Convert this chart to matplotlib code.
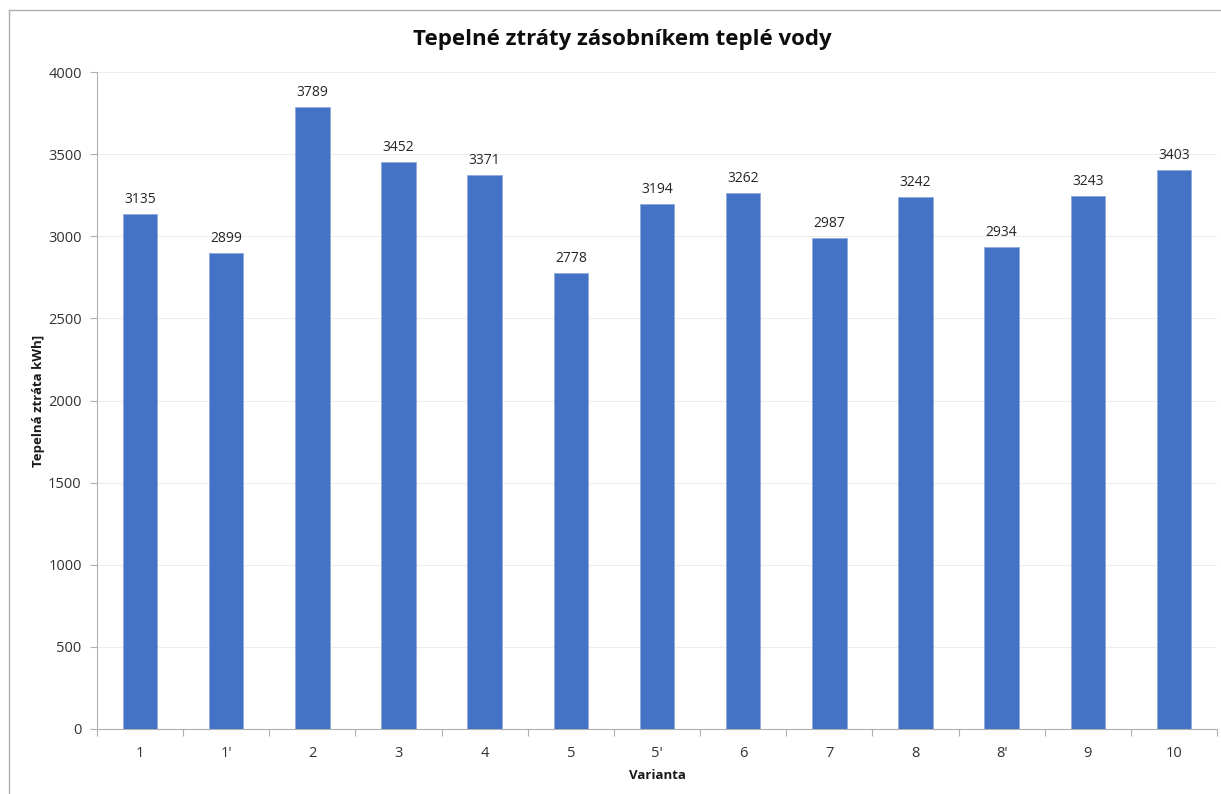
import matplotlib
matplotlib.use("Agg")
import matplotlib.pyplot as plt
from matplotlib.lines import Line2D
import numpy as np

categories = ["1", "1'", "2", "3", "4", "5", "5'", "6", "7", "8", "8'", "9", "10"]
losses = [3135, 2899, 3789, 3452, 3371, 2778, 3194, 3262, 2987, 3242, 2934, 3243, 3403]
y_ticks = [0, 500, 1000, 1500, 2000, 2500, 3000, 3500, 4000]

plt.rcParams["font.family"] = ["Open Sans", "DejaVu Sans"]

W, H = 1221, 794
fig = plt.figure(figsize=(W / 100, H / 100), dpi=100)

# outer chart frame (top and left edges visible)
fig.add_artist(Line2D([9 / W, 9 / W], [0, 1 - 10 / H], transform=fig.transFigure,
                      color="#B0B0B0", lw=1.0))
fig.add_artist(Line2D([9 / W, 1], [1 - 10 / H, 1 - 10 / H], transform=fig.transFigure,
                      color="#B0B0B0", lw=1.0))

left, right, top, bottom = 97, 1217, 72, 729
ax = fig.add_axes([left / W, 1 - bottom / H, (right - left) / W, (bottom - top) / H])

x = np.arange(len(categories))
ax.bar(x, losses, width=0.4, color="#4472C4", edgecolor="#8FAADC", linewidth=0.6, zorder=3)

for xi, v in zip(x, losses):
    ax.annotate(f"{v}", (xi, v), xytext=(0, 5), textcoords="offset points",
                ha="center", va="bottom", fontsize=10, color="#262626")

ax.set_xlim(-0.5, len(categories) - 0.5)
ax.set_ylim(0, 4000)
ax.set_yticks(y_ticks)
ax.set_yticklabels([str(t) for t in y_ticks], fontsize=10.5, color="#333333")
ax.yaxis.grid(True, color="#EDEDED", lw=0.8, zorder=0)
ax.set_axisbelow(True)

ax.set_xticks(x)
ax.set_xticklabels(categories, fontsize=10.5, color="#333333")
ax.tick_params(axis="x", length=0, pad=12)
ax.set_xticks(np.arange(-0.5, len(categories)), minor=True)
ax.tick_params(axis="x", which="minor", length=5, color="#B0B0B0", width=0.8)
ax.tick_params(axis="y", length=5, color="#B0B0B0", width=0.8, pad=6)

for s in ["top", "right"]:
    ax.spines[s].set_visible(False)
for s in ["left", "bottom"]:
    ax.spines[s].set_color("#B0B0B0")
    ax.spines[s].set_linewidth(0.8)

ax.set_xlabel("Varianta", fontsize=9.5, fontweight="bold", color="#1A1A1A", labelpad=6)
ax.set_ylabel("Tepelná ztráta kWh]", fontsize=9.5, fontweight="bold", color="#1A1A1A", labelpad=2)

fig.text(622 / W, 1 - 39 / H, "Tepelné ztráty zásobníkem teplé vody",
         ha="center", va="center", fontsize=16, fontweight="bold", color="#0D0D0D")

fig.savefig("out.png", dpi=100)
